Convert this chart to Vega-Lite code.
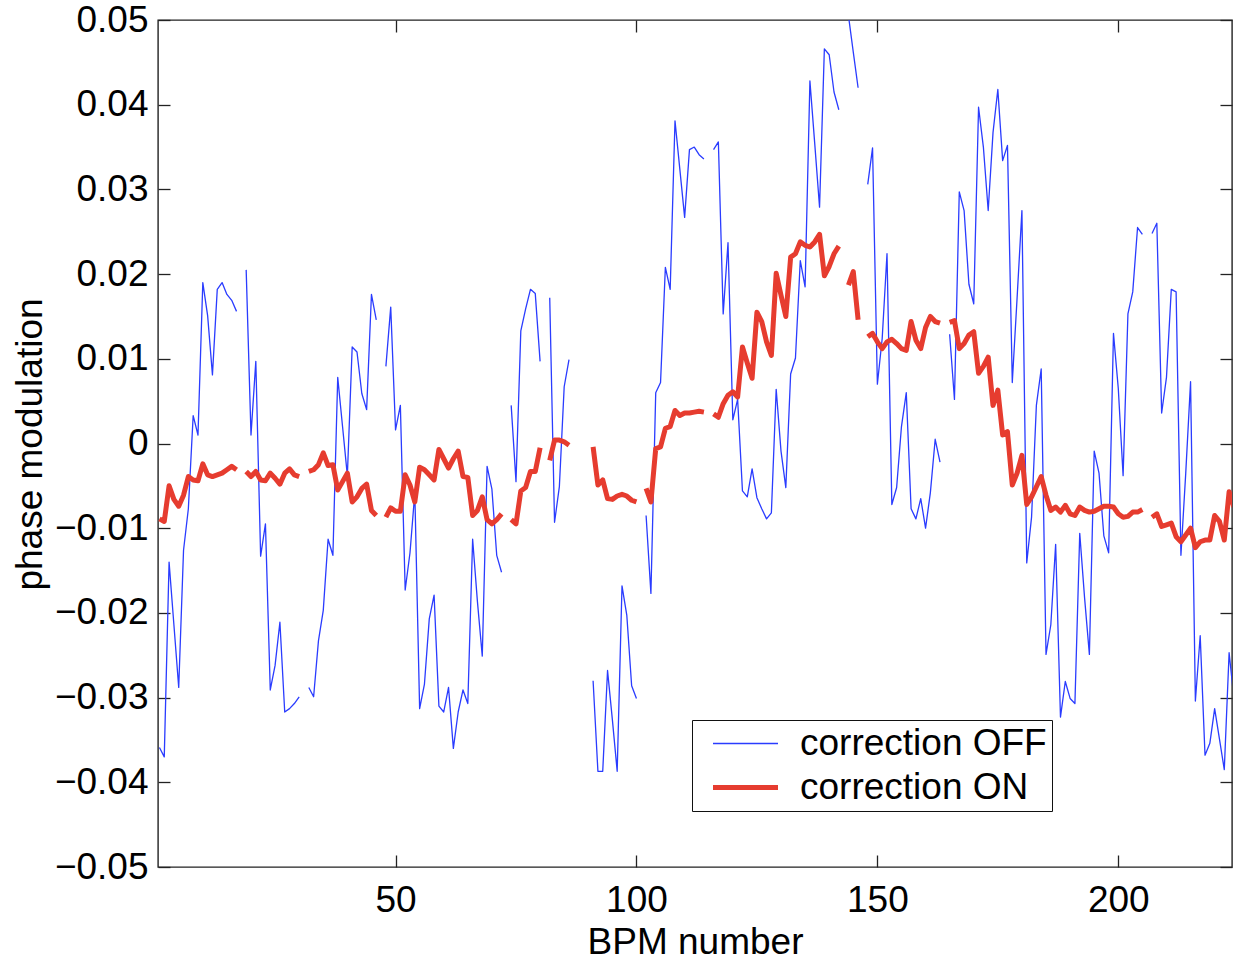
{
  "$schema": "https://vega.github.io/schema/vega-lite/v6.json",
  "width": 1074,
  "height": 847,
  "autosize": {"type": "none"},
  "padding": {"left": 158, "top": 20, "right": 8, "bottom": 98},
  "background": "white",
  "data": {
    "values": [
      {"bpm": 1, "correction OFF": -0.0359, "correction ON": -0.0089},
      {"bpm": 2, "correction OFF": -0.0370, "correction ON": -0.0092},
      {"bpm": 3, "correction OFF": -0.0140, "correction ON": -0.0050},
      {"bpm": 4, "correction OFF": -0.0214, "correction ON": -0.0066},
      {"bpm": 5, "correction OFF": -0.0288, "correction ON": -0.0074},
      {"bpm": 6, "correction OFF": -0.0126, "correction ON": -0.0061},
      {"bpm": 7, "correction OFF": -0.0077, "correction ON": -0.0039},
      {"bpm": 8, "correction OFF": 0.0033, "correction ON": -0.0043},
      {"bpm": 9, "correction OFF": 0.0010, "correction ON": -0.0044},
      {"bpm": 10, "correction OFF": 0.0190, "correction ON": -0.0024},
      {"bpm": 11, "correction OFF": 0.0151, "correction ON": -0.0037},
      {"bpm": 12, "correction OFF": 0.0081, "correction ON": -0.0039},
      {"bpm": 13, "correction OFF": 0.0182, "correction ON": -0.0037},
      {"bpm": 14, "correction OFF": 0.0190, "correction ON": -0.0035},
      {"bpm": 15, "correction OFF": 0.0176, "correction ON": -0.0031},
      {"bpm": 16, "correction OFF": 0.0169, "correction ON": -0.0027},
      {"bpm": 17, "correction OFF": 0.0156, "correction ON": -0.0031},
      {"bpm": 18, "correction OFF": null, "correction ON": null},
      {"bpm": 19, "correction OFF": 0.0205, "correction ON": -0.0033},
      {"bpm": 20, "correction OFF": 0.0010, "correction ON": -0.0039},
      {"bpm": 21, "correction OFF": 0.0097, "correction ON": -0.0033},
      {"bpm": 22, "correction OFF": -0.0133, "correction ON": -0.0043},
      {"bpm": 23, "correction OFF": -0.0095, "correction ON": -0.0044},
      {"bpm": 24, "correction OFF": -0.0291, "correction ON": -0.0035},
      {"bpm": 25, "correction OFF": -0.0262, "correction ON": -0.0041},
      {"bpm": 26, "correction OFF": -0.0211, "correction ON": -0.0048},
      {"bpm": 27, "correction OFF": -0.0317, "correction ON": -0.0035},
      {"bpm": 28, "correction OFF": -0.0313, "correction ON": -0.0030},
      {"bpm": 29, "correction OFF": -0.0307, "correction ON": -0.0037},
      {"bpm": 30, "correction OFF": -0.0299, "correction ON": -0.0039},
      {"bpm": 31, "correction OFF": null, "correction ON": null},
      {"bpm": 32, "correction OFF": -0.0288, "correction ON": -0.0033},
      {"bpm": 33, "correction OFF": -0.0299, "correction ON": -0.0031},
      {"bpm": 34, "correction OFF": -0.0233, "correction ON": -0.0025},
      {"bpm": 35, "correction OFF": -0.0197, "correction ON": -0.0011},
      {"bpm": 36, "correction OFF": -0.0113, "correction ON": -0.0026},
      {"bpm": 37, "correction OFF": -0.0132, "correction ON": -0.0025},
      {"bpm": 38, "correction OFF": 0.0078, "correction ON": -0.0055},
      {"bpm": 39, "correction OFF": 0.0020, "correction ON": -0.0045},
      {"bpm": 40, "correction OFF": -0.0038, "correction ON": -0.0035},
      {"bpm": 41, "correction OFF": 0.0114, "correction ON": -0.0069},
      {"bpm": 42, "correction OFF": 0.0108, "correction ON": -0.0063},
      {"bpm": 43, "correction OFF": 0.0059, "correction ON": -0.0053},
      {"bpm": 44, "correction OFF": 0.0040, "correction ON": -0.0048},
      {"bpm": 45, "correction OFF": 0.0176, "correction ON": -0.0079},
      {"bpm": 46, "correction OFF": 0.0146, "correction ON": -0.0085},
      {"bpm": 47, "correction OFF": null, "correction ON": null},
      {"bpm": 48, "correction OFF": 0.0091, "correction ON": -0.0087},
      {"bpm": 49, "correction OFF": 0.0161, "correction ON": -0.0076},
      {"bpm": 50, "correction OFF": 0.0016, "correction ON": -0.0080},
      {"bpm": 51, "correction OFF": 0.0045, "correction ON": -0.0080},
      {"bpm": 52, "correction OFF": -0.0173, "correction ON": -0.0037},
      {"bpm": 53, "correction OFF": -0.0129, "correction ON": -0.0049},
      {"bpm": 54, "correction OFF": -0.0058, "correction ON": -0.0069},
      {"bpm": 55, "correction OFF": -0.0313, "correction ON": -0.0028},
      {"bpm": 56, "correction OFF": -0.0284, "correction ON": -0.0031},
      {"bpm": 57, "correction OFF": -0.0207, "correction ON": -0.0037},
      {"bpm": 58, "correction OFF": -0.0179, "correction ON": -0.0043},
      {"bpm": 59, "correction OFF": -0.0310, "correction ON": -0.0007},
      {"bpm": 60, "correction OFF": -0.0317, "correction ON": -0.0018},
      {"bpm": 61, "correction OFF": -0.0288, "correction ON": -0.0029},
      {"bpm": 62, "correction OFF": -0.0360, "correction ON": -0.0018},
      {"bpm": 63, "correction OFF": -0.0317, "correction ON": -0.0009},
      {"bpm": 64, "correction OFF": -0.0291, "correction ON": -0.0039},
      {"bpm": 65, "correction OFF": -0.0307, "correction ON": -0.0040},
      {"bpm": 66, "correction OFF": -0.0113, "correction ON": -0.0085},
      {"bpm": 67, "correction OFF": -0.0187, "correction ON": -0.0079},
      {"bpm": 68, "correction OFF": -0.0251, "correction ON": -0.0063},
      {"bpm": 69, "correction OFF": -0.0027, "correction ON": -0.0090},
      {"bpm": 70, "correction OFF": -0.0054, "correction ON": -0.0095},
      {"bpm": 71, "correction OFF": -0.0132, "correction ON": -0.0090},
      {"bpm": 72, "correction OFF": -0.0152, "correction ON": -0.0083},
      {"bpm": 73, "correction OFF": null, "correction ON": null},
      {"bpm": 74, "correction OFF": 0.0045, "correction ON": -0.0090},
      {"bpm": 75, "correction OFF": -0.0045, "correction ON": -0.0095},
      {"bpm": 76, "correction OFF": 0.0133, "correction ON": -0.0056},
      {"bpm": 77, "correction OFF": 0.0159, "correction ON": -0.0052},
      {"bpm": 78, "correction OFF": 0.0182, "correction ON": -0.0033},
      {"bpm": 79, "correction OFF": 0.0177, "correction ON": -0.0033},
      {"bpm": 80, "correction OFF": 0.0097, "correction ON": -0.0005},
      {"bpm": 81, "correction OFF": null, "correction ON": null},
      {"bpm": 82, "correction OFF": 0.0172, "correction ON": -0.0020},
      {"bpm": 83, "correction OFF": -0.0093, "correction ON": 0.0004},
      {"bpm": 84, "correction OFF": -0.0051, "correction ON": 0.0004},
      {"bpm": 85, "correction OFF": 0.0067, "correction ON": 0.0002},
      {"bpm": 86, "correction OFF": 0.0099, "correction ON": -0.0002},
      {"bpm": 87, "correction OFF": null, "correction ON": null},
      {"bpm": 88, "correction OFF": null, "correction ON": null},
      {"bpm": 89, "correction OFF": null, "correction ON": null},
      {"bpm": 90, "correction OFF": null, "correction ON": null},
      {"bpm": 91, "correction OFF": -0.0280, "correction ON": -0.0004},
      {"bpm": 92, "correction OFF": -0.0387, "correction ON": -0.0049},
      {"bpm": 93, "correction OFF": -0.0387, "correction ON": -0.0043},
      {"bpm": 94, "correction OFF": -0.0268, "correction ON": -0.0065},
      {"bpm": 95, "correction OFF": -0.0326, "correction ON": -0.0066},
      {"bpm": 96, "correction OFF": -0.0387, "correction ON": -0.0062},
      {"bpm": 97, "correction OFF": -0.0168, "correction ON": -0.0060},
      {"bpm": 98, "correction OFF": -0.0203, "correction ON": -0.0062},
      {"bpm": 99, "correction OFF": -0.0286, "correction ON": -0.0067},
      {"bpm": 100, "correction OFF": -0.0301, "correction ON": -0.0069},
      {"bpm": 101, "correction OFF": null, "correction ON": null},
      {"bpm": 102, "correction OFF": -0.0085, "correction ON": -0.0053},
      {"bpm": 103, "correction OFF": -0.0177, "correction ON": -0.0069},
      {"bpm": 104, "correction OFF": 0.0060, "correction ON": -0.0006},
      {"bpm": 105, "correction OFF": 0.0072, "correction ON": -0.0004},
      {"bpm": 106, "correction OFF": 0.0208, "correction ON": 0.0018},
      {"bpm": 107, "correction OFF": 0.0182, "correction ON": 0.0020},
      {"bpm": 108, "correction OFF": 0.0381, "correction ON": 0.0039},
      {"bpm": 109, "correction OFF": 0.0324, "correction ON": 0.0033},
      {"bpm": 110, "correction OFF": 0.0267, "correction ON": 0.0036},
      {"bpm": 111, "correction OFF": 0.0347, "correction ON": 0.0036},
      {"bpm": 112, "correction OFF": 0.0350, "correction ON": 0.0037},
      {"bpm": 113, "correction OFF": 0.0341, "correction ON": 0.0038},
      {"bpm": 114, "correction OFF": 0.0336, "correction ON": 0.0037},
      {"bpm": 115, "correction OFF": null, "correction ON": null},
      {"bpm": 116, "correction OFF": 0.0347, "correction ON": 0.0035},
      {"bpm": 117, "correction OFF": 0.0356, "correction ON": 0.0031},
      {"bpm": 118, "correction OFF": 0.0153, "correction ON": 0.0047},
      {"bpm": 119, "correction OFF": 0.0237, "correction ON": 0.0057},
      {"bpm": 120, "correction OFF": 0.0028, "correction ON": 0.0061},
      {"bpm": 121, "correction OFF": 0.0052, "correction ON": 0.0055},
      {"bpm": 122, "correction OFF": -0.0056, "correction ON": 0.0114},
      {"bpm": 123, "correction OFF": -0.0063, "correction ON": 0.0095},
      {"bpm": 124, "correction OFF": -0.0030, "correction ON": 0.0077},
      {"bpm": 125, "correction OFF": -0.0064, "correction ON": 0.0155},
      {"bpm": 126, "correction OFF": -0.0077, "correction ON": 0.0144},
      {"bpm": 127, "correction OFF": -0.0089, "correction ON": 0.0120},
      {"bpm": 128, "correction OFF": -0.0082, "correction ON": 0.0104},
      {"bpm": 129, "correction OFF": 0.0064, "correction ON": 0.0201},
      {"bpm": 130, "correction OFF": -0.0009, "correction ON": 0.0175},
      {"bpm": 131, "correction OFF": -0.0052, "correction ON": 0.0150},
      {"bpm": 132, "correction OFF": 0.0082, "correction ON": 0.0220},
      {"bpm": 133, "correction OFF": 0.0101, "correction ON": 0.0224},
      {"bpm": 134, "correction OFF": 0.0216, "correction ON": 0.0238},
      {"bpm": 135, "correction OFF": 0.0185, "correction ON": 0.0234},
      {"bpm": 136, "correction OFF": 0.0428, "correction ON": 0.0232},
      {"bpm": 137, "correction OFF": 0.0354, "correction ON": 0.0238},
      {"bpm": 138, "correction OFF": 0.0279, "correction ON": 0.0247},
      {"bpm": 139, "correction OFF": 0.0466, "correction ON": 0.0198},
      {"bpm": 140, "correction OFF": 0.0459, "correction ON": 0.0209},
      {"bpm": 141, "correction OFF": 0.0415, "correction ON": 0.0224},
      {"bpm": 142, "correction OFF": 0.0394, "correction ON": 0.0233},
      {"bpm": 143, "correction OFF": null, "correction ON": null},
      {"bpm": 144, "correction OFF": 0.0505, "correction ON": 0.0187},
      {"bpm": 145, "correction OFF": 0.0462, "correction ON": 0.0203},
      {"bpm": 146, "correction OFF": 0.0420, "correction ON": 0.0146},
      {"bpm": 147, "correction OFF": null, "correction ON": null},
      {"bpm": 148, "correction OFF": 0.0306, "correction ON": 0.0126},
      {"bpm": 149, "correction OFF": 0.0349, "correction ON": 0.0130},
      {"bpm": 150, "correction OFF": 0.0070, "correction ON": 0.0120},
      {"bpm": 151, "correction OFF": 0.0124, "correction ON": 0.0112},
      {"bpm": 152, "correction OFF": 0.0224, "correction ON": 0.0120},
      {"bpm": 153, "correction OFF": -0.0072, "correction ON": 0.0123},
      {"bpm": 154, "correction OFF": -0.0052, "correction ON": 0.0118},
      {"bpm": 155, "correction OFF": 0.0020, "correction ON": 0.0112},
      {"bpm": 156, "correction OFF": 0.0060, "correction ON": 0.0110},
      {"bpm": 157, "correction OFF": -0.0077, "correction ON": 0.0144},
      {"bpm": 158, "correction OFF": -0.0089, "correction ON": 0.0122},
      {"bpm": 159, "correction OFF": -0.0065, "correction ON": 0.0112},
      {"bpm": 160, "correction OFF": -0.0100, "correction ON": 0.0137},
      {"bpm": 161, "correction OFF": -0.0058, "correction ON": 0.0150},
      {"bpm": 162, "correction OFF": 0.0005, "correction ON": 0.0144},
      {"bpm": 163, "correction OFF": -0.0022, "correction ON": 0.0142},
      {"bpm": 164, "correction OFF": null, "correction ON": null},
      {"bpm": 165, "correction OFF": 0.0129, "correction ON": 0.0143},
      {"bpm": 166, "correction OFF": 0.0052, "correction ON": 0.0145},
      {"bpm": 167, "correction OFF": 0.0297, "correction ON": 0.0112},
      {"bpm": 168, "correction OFF": 0.0275, "correction ON": 0.0118},
      {"bpm": 169, "correction OFF": 0.0188, "correction ON": 0.0128},
      {"bpm": 170, "correction OFF": 0.0165, "correction ON": 0.0132},
      {"bpm": 171, "correction OFF": 0.0397, "correction ON": 0.0083},
      {"bpm": 172, "correction OFF": 0.0350, "correction ON": 0.0091},
      {"bpm": 173, "correction OFF": 0.0275, "correction ON": 0.0102},
      {"bpm": 174, "correction OFF": 0.0367, "correction ON": 0.0045},
      {"bpm": 175, "correction OFF": 0.0418, "correction ON": 0.0063},
      {"bpm": 176, "correction OFF": 0.0334, "correction ON": 0.0010},
      {"bpm": 177, "correction OFF": 0.0352, "correction ON": 0.0014},
      {"bpm": 178, "correction OFF": 0.0072, "correction ON": -0.0049},
      {"bpm": 179, "correction OFF": 0.0172, "correction ON": -0.0035},
      {"bpm": 180, "correction OFF": 0.0275, "correction ON": -0.0014},
      {"bpm": 181, "correction OFF": -0.0141, "correction ON": -0.0072},
      {"bpm": 182, "correction OFF": -0.0087, "correction ON": -0.0063},
      {"bpm": 183, "correction OFF": 0.0045, "correction ON": -0.0051},
      {"bpm": 184, "correction OFF": 0.0088, "correction ON": -0.0039},
      {"bpm": 185, "correction OFF": -0.0249, "correction ON": -0.0061},
      {"bpm": 186, "correction OFF": -0.0214, "correction ON": -0.0079},
      {"bpm": 187, "correction OFF": -0.0119, "correction ON": -0.0075},
      {"bpm": 188, "correction OFF": -0.0323, "correction ON": -0.0081},
      {"bpm": 189, "correction OFF": -0.0281, "correction ON": -0.0073},
      {"bpm": 190, "correction OFF": -0.0301, "correction ON": -0.0083},
      {"bpm": 191, "correction OFF": -0.0307, "correction ON": -0.0085},
      {"bpm": 192, "correction OFF": -0.0106, "correction ON": -0.0075},
      {"bpm": 193, "correction OFF": -0.0182, "correction ON": -0.0079},
      {"bpm": 194, "correction OFF": -0.0249, "correction ON": -0.0081},
      {"bpm": 195, "correction OFF": -0.0009, "correction ON": -0.0080},
      {"bpm": 196, "correction OFF": -0.0035, "correction ON": -0.0077},
      {"bpm": 197, "correction OFF": -0.0109, "correction ON": -0.0074},
      {"bpm": 198, "correction OFF": -0.0129, "correction ON": -0.0074},
      {"bpm": 199, "correction OFF": 0.0130, "correction ON": -0.0075},
      {"bpm": 200, "correction OFF": 0.0065, "correction ON": -0.0083},
      {"bpm": 201, "correction OFF": -0.0038, "correction ON": -0.0087},
      {"bpm": 202, "correction OFF": 0.0153, "correction ON": -0.0086},
      {"bpm": 203, "correction OFF": 0.0179, "correction ON": -0.0081},
      {"bpm": 204, "correction OFF": 0.0255, "correction ON": -0.0081},
      {"bpm": 205, "correction OFF": 0.0247, "correction ON": -0.0078},
      {"bpm": 206, "correction OFF": null, "correction ON": null},
      {"bpm": 207, "correction OFF": 0.0248, "correction ON": -0.0087},
      {"bpm": 208, "correction OFF": 0.0260, "correction ON": -0.0083},
      {"bpm": 209, "correction OFF": 0.0036, "correction ON": -0.0098},
      {"bpm": 210, "correction OFF": 0.0078, "correction ON": -0.0096},
      {"bpm": 211, "correction OFF": 0.0182, "correction ON": -0.0094},
      {"bpm": 212, "correction OFF": 0.0179, "correction ON": -0.0110},
      {"bpm": 213, "correction OFF": -0.0132, "correction ON": -0.0116},
      {"bpm": 214, "correction OFF": -0.0035, "correction ON": -0.0108},
      {"bpm": 215, "correction OFF": 0.0073, "correction ON": -0.0100},
      {"bpm": 216, "correction OFF": -0.0304, "correction ON": -0.0123},
      {"bpm": 217, "correction OFF": -0.0227, "correction ON": -0.0116},
      {"bpm": 218, "correction OFF": -0.0368, "correction ON": -0.0114},
      {"bpm": 219, "correction OFF": -0.0354, "correction ON": -0.0114},
      {"bpm": 220, "correction OFF": -0.0313, "correction ON": -0.0085},
      {"bpm": 221, "correction OFF": -0.0349, "correction ON": -0.0092},
      {"bpm": 222, "correction OFF": -0.0385, "correction ON": -0.0114},
      {"bpm": 223, "correction OFF": -0.0247, "correction ON": -0.0057},
      {"bpm": 224, "correction OFF": -0.0301, "correction ON": -0.0075}
    ]
  },
  "transform": [
    {"fold": ["correction OFF", "correction ON"], "as": ["series", "value"]}
  ],
  "layer": [
    {
      "transform": [{"filter": "datum.series === 'correction OFF'"}],
      "mark": {"type": "line", "clip": true, "strokeWidth": 1.3, "strokeJoin": "round", "invalid": "break-paths-show-domains"},
      "encoding": {
        "x": {
          "field": "bpm", "type": "quantitative",
          "scale": {"domain": [0.7, 223.6], "nice": false, "zero": false},
          "axis": {
            "orient": "bottom", "values": [50, 100, 150, 200],
            "title": "BPM number", "titleBaseline": "alphabetic", "titleY": 86,
            "labelBaseline": "alphabetic", "labelPadding": 56
          }
        },
        "y": {
          "field": "value", "type": "quantitative",
          "scale": {"domain": [-0.05, 0.05], "nice": false, "zero": false},
          "axis": {
            "orient": "left",
            "values": [-0.05, -0.04, -0.03, -0.02, -0.01, 0, 0.01, 0.02, 0.03, 0.04, 0.05],
            "labelExpr": "datum.value == 0 ? '0' : format(datum.value, '.2f')",
            "labelPadding": 22, "labelBaseline": "middle",
            "title": "phase modulation", "titleAngle": -90, "titleBaseline": "alphabetic",
            "titleAlign": "center", "titleX": -117, "titleY": 424
          }
        },
        "color": {
          "field": "series", "type": "nominal",
          "scale": {"domain": ["correction OFF", "correction ON"], "range": ["#2a3cff", "#e63c2f"]},
          "legend": {
            "title": null, "orient": "none", "legendX": 534, "legendY": 700,
            "symbolType": "stroke", "symbolSize": 4225,
            "padding": 5, "clipHeight": 37, "rowPadding": 6,
            "symbolOffset": 30, "labelOffset": 36, "labelLimit": 500,
            "fillColor": "white", "strokeColor": "#111",
            "labelFontSize": 37, "labelFont": "Liberation Sans", "labelColor": "black",
            "encode": {
              "symbols": {"update": {"strokeWidth": {"signal": "datum.value === 'correction ON' ? 5 : 1.3"}}}
            }
          }
        }
      }
    },
    {
      "transform": [{"filter": "datum.series === 'correction ON'"}],
      "mark": {"type": "line", "clip": true, "strokeWidth": 5, "strokeJoin": "round", "invalid": "break-paths-show-domains"},
      "encoding": {
        "x": {
          "field": "bpm", "type": "quantitative",
          "axis": {"orient": "top", "values": [50, 100, 150, 200], "labels": false, "title": null}
        },
        "y": {
          "field": "value", "type": "quantitative",
          "axis": {
            "orient": "right",
            "values": [-0.05, -0.04, -0.03, -0.02, -0.01, 0, 0.01, 0.02, 0.03, 0.04, 0.05],
            "labels": false, "title": null
          }
        },
        "color": {"field": "series", "type": "nominal"}
      }
    }
  ],
  "resolve": {"axis": {"x": "independent", "y": "independent"}},
  "config": {
    "view": {"stroke": "#222", "strokeWidth": 1.4},
    "font": "Liberation Sans",
    "axis": {
      "domain": false, "grid": false,
      "ticks": true, "tickSize": -12, "tickColor": "#222", "tickWidth": 1.3,
      "labelFont": "Liberation Sans", "labelFontSize": 37, "labelColor": "black",
      "labelFlush": false, "labelOverlap": false,
      "titleFont": "Liberation Sans", "titleFontSize": 37, "titleFontWeight": "normal", "titleColor": "black"
    }
  }
}
